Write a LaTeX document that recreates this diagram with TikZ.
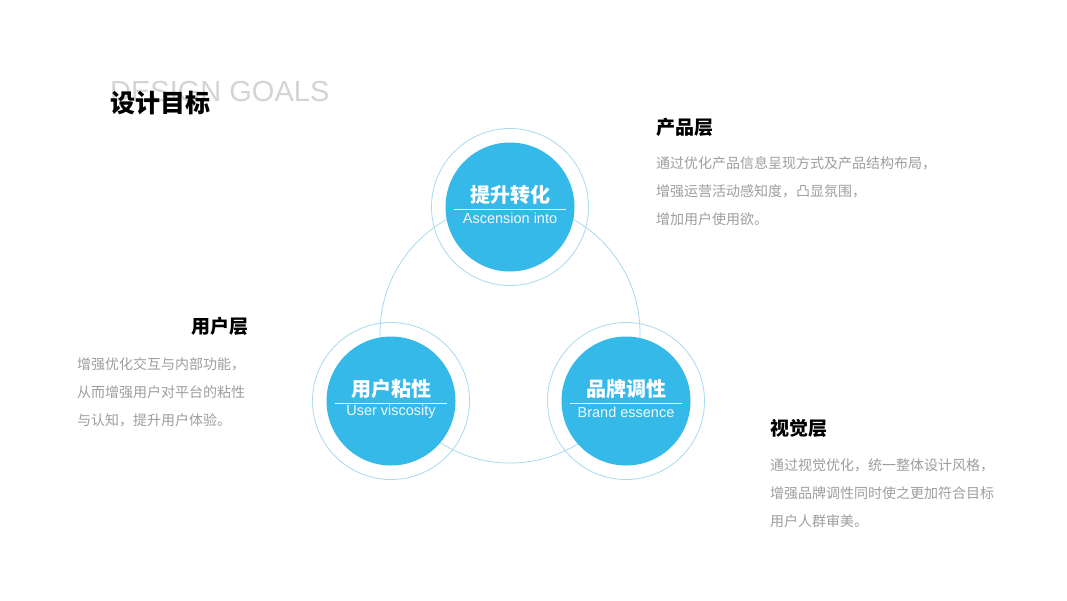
\documentclass[tikz,border=0pt]{standalone}
\usepackage{fontspec}
\setmainfont{Noto Sans CJK SC}
\newfontfamily\latinfont{Liberation Sans}
\usetikzlibrary{calc}
\definecolor{skyblue}{HTML}{35B9E9}
\definecolor{ringblue}{HTML}{A9DAEE}
\definecolor{bodygray}{HTML}{9E9E9E}
\definecolor{ghostgray}{HTML}{D4D4D4}

\begin{document}
\begin{tikzpicture}[
    x=1pt, y=-1pt,
    core/.style={circle, fill=skyblue, minimum size=129pt, inner sep=0pt},
    ring/.style={circle, draw=ringblue, line width=0.8pt,
                 minimum size=157pt, inner sep=0pt},
    link/.style={draw=ringblue, line width=0.8pt},
    goal/.style={text=white, inner sep=0pt,
                 font=\fontsize{20}{20}\selectfont\bfseries},
    goalen/.style={text=white!92!skyblue, inner sep=0pt,
                   font=\latinfont\fontsize{14.5}{14.5}\selectfont},
    layer/.style={inner sep=0pt, font=\fontsize{19}{19}\selectfont\bfseries},
    desc/.style={anchor=north west, align=left, text=bodygray, inner sep=0pt,
                 font=\fontsize{14}{28}\selectfont}
  ]
  \useasboundingbox[fill=white] (0,0) rectangle (1067,600);

  % title
  \node[anchor=base west, inner sep=0pt, text=ghostgray,
        font=\latinfont\fontsize{29}{29}\selectfont] (ghost) at (110,101) {DESIGN GOALS};
  \node[anchor=west, inner sep=0pt, font=\fontsize{25}{25}\selectfont\bfseries]
    (title) at (110,103) {设计目标};

  % ring of the three goals
  \coordinate (hub) at (510,333);
  \draw[link] (hub) circle (130pt);

  \node[ring] (convring) at (510,207) {};
  \node[ring] (stickring) at (391,401) {};
  \node[ring] (brandring) at (626,401) {};
  \node[core] (conv) at (convring) {};
  \node[core] (stick) at (stickring) {};
  \node[core] (brand) at (brandring) {};

  \foreach \c/\cn/\en in {conv/提升转化/Ascension into,
                          stick/用户粘性/User viscosity,
                          brand/品牌调性/Brand essence}{
    \node[goal] (\c cn) at ($(\c)+(0,-12)$) {\cn};
    \node[goalen] (\c en) at ($(\c)+(0,11)$) {\en};
    \draw[white, line width=0.6pt] ($(\c)+(-56,2)$) -- ($(\c)+(56,2)$);
  }

  % layers
  \node[layer, anchor=west] (prod) at (656,127) {产品层};
  \node[desc] (proddesc) at (656,156)
    {通过优化产品信息呈现方式及产品结构布局，\\增强运营活动感知度，凸显氛围，\\增加用户使用欲。};

  \node[layer, anchor=east] (user) at (249,326) {用户层};
  \node[desc] (userdesc) at (77,357)
    {增强优化交互与内部功能，\\从而增强用户对平台的粘性\\与认知，提升用户体验。};

  \node[layer, anchor=west] (visual) at (770,428) {视觉层};
  \node[desc] (visualdesc) at (770,458)
    {通过视觉优化，统一整体设计风格，\\增强品牌调性同时使之更加符合目标\\用户人群审美。};
\end{tikzpicture}
\end{document}
